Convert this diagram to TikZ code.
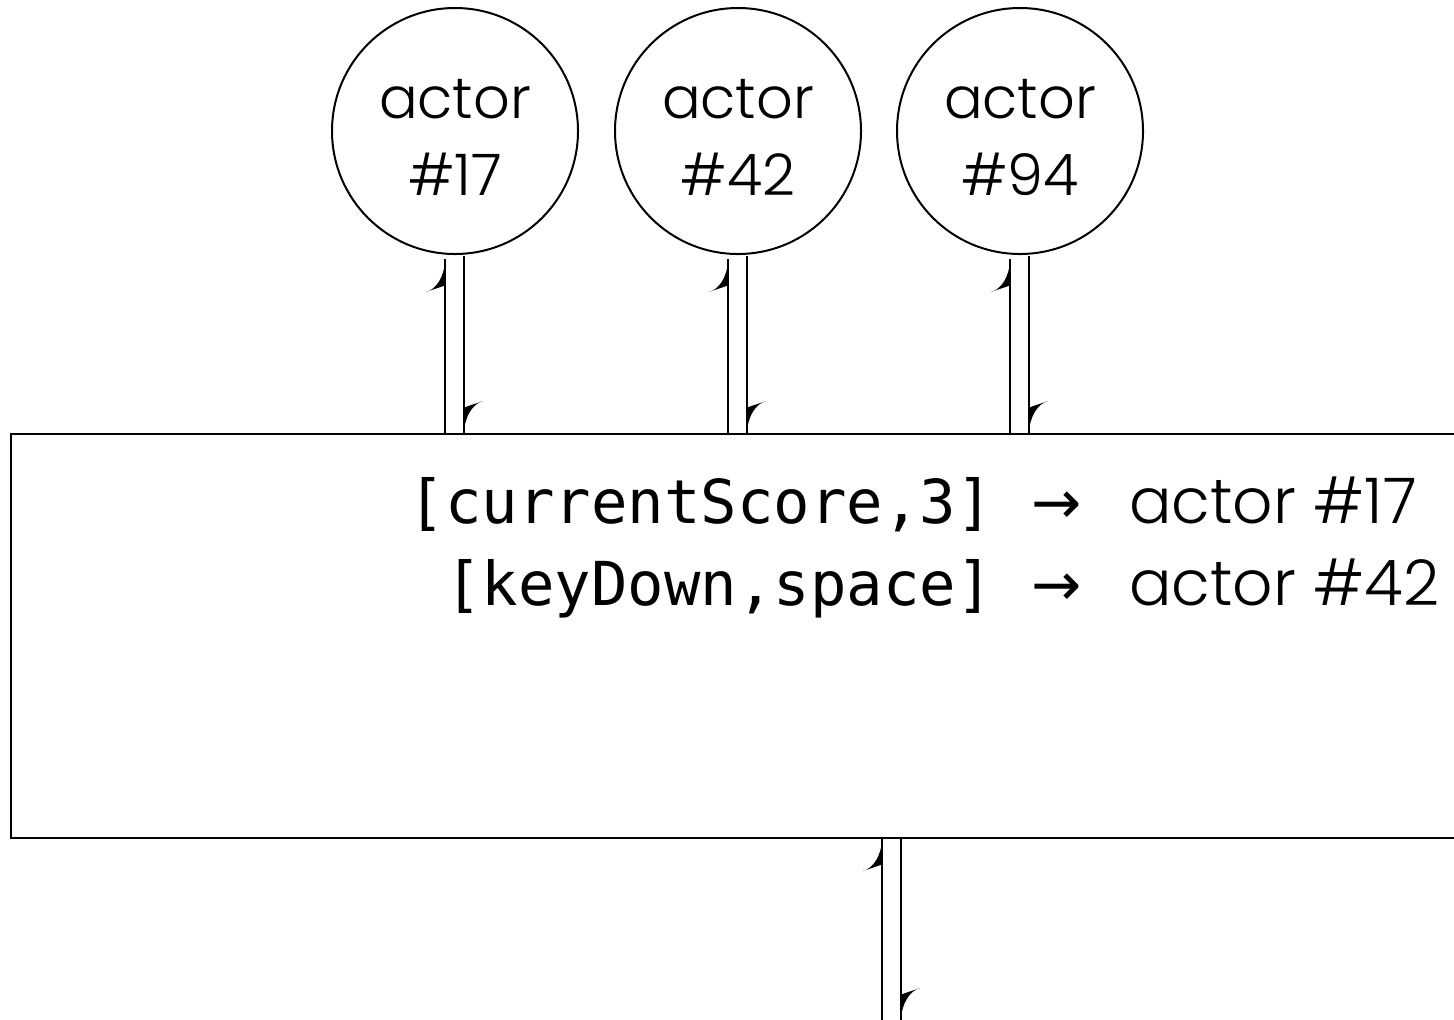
\documentclass[tikz,border=0pt]{standalone}
\usepackage{fontspec}
\setmainfont{Poppins}[UprightFont=* Light]
\setmonofont{DejaVu Sans Mono}
\newfontfamily\symfont{DejaVu Sans}
\usetikzlibrary{arrows.meta}
\pgfdeclarearrow{
  name = HarpBarb,
  setup code = {
    \pgfarrowssettipend{0pt}
    \pgfarrowssetlineend{-0.2pt}
    \pgfarrowssetbackend{-17pt}
    \pgfarrowssetvisualbackend{-17pt}
  },
  drawing code = {
    \pgfpathmoveto{\pgfpoint{-0.5pt}{0pt}}
    \pgfpathcurveto{\pgfpoint{-9pt}{0.3pt}}{\pgfpoint{-15.2pt}{4.5pt}}{\pgfpoint{-16.5pt}{9.5pt}}
    \pgfpathcurveto{\pgfpoint{-15.2pt}{6pt}}{\pgfpoint{-14.2pt}{2.5pt}}{\pgfpoint{-13.2pt}{0pt}}
    \pgfpathclose
    \pgfusepathqfill
  }
}
\begin{document}
\begin{tikzpicture}[x=0.5pt,y=-0.5pt,
  actor/.style={draw,circle,line width=1pt,minimum size=123pt,inner sep=0pt},
  actortext/.style={align=center,inner sep=0pt,font=\fontsize{28.7}{38.5}\selectfont},
  harp/.style={line width=1pt,-{HarpBarb}},
  lbl/.style={font=\fontsize{31.5}{36}\selectfont,inner sep=0pt},
  mono/.style={font=\ttfamily\fontsize{30.3}{36}\selectfont,inner sep=0pt}]
\useasboundingbox (0,0) rectangle (1454,1019);
\node[actor] (a17) at (455,131) {};
\node[actor] (a42) at (738,131) {};
\node[actor] (a94) at (1020,131) {};
\node[actortext] (l17) at (455,137) {actor\\\#17};
\node[actortext] (l42) at (738,137) {actor\\\#42};
\node[actortext] (l94) at (1020,137) {actor\\\#94};
\draw[line width=1pt] (1470,434) -- (11,434) -- (11,838) -- (1470,838);
\coordinate (box) at (11,434);
\coordinate (boxb) at (11,838);
\coordinate (out) at (892,1021);
\node[mono,anchor=base east] (m1) at (993,523) {[currentScore,3]};
\node[mono,anchor=base east] (m2) at (993,605) {[keyDown,space]};
\node[lbl,anchor=base,font=\symfont\fontsize{30}{36}\selectfont] (r1) at (1057,523) {→};
\node[lbl,anchor=base,font=\symfont\fontsize{30}{36}\selectfont] (r2) at (1057,605) {→};
\node[lbl,anchor=base west] (t1) at (1129,523) {actor \#17};
\node[lbl,anchor=base west] (t2) at (1129,605) {actor \#42};
\foreach \a in {a17,a42,a94}{
  \draw[harp] ([xshift=-5pt]\a.center |- box) -- ([xshift=-5pt,yshift=-2pt]\a.south);
  \draw[harp] ([xshift=4.5pt,yshift=-0.5pt]\a.south) -- ([xshift=4.5pt]\a.center |- box);
}
\draw[harp] ([xshift=-5pt]out) -- ([xshift=-5pt]out |- boxb);
\draw[harp] ([xshift=4.5pt]out |- boxb) -- ([xshift=4.5pt]out);
\end{tikzpicture}
\end{document}
